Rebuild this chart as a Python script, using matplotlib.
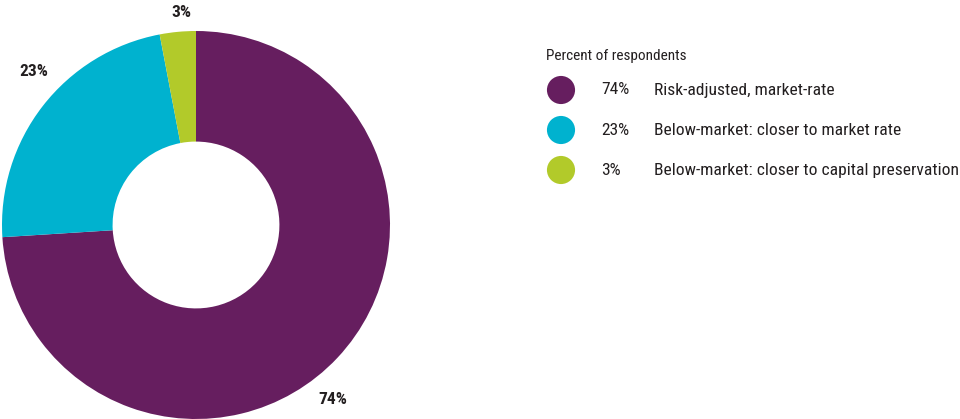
import matplotlib
matplotlib.use("Agg")
import matplotlib.pyplot as plt
import numpy as np

# data
categories = ["Risk-adjusted, market-rate",
              "Below-market: closer to market rate",
              "Below-market: closer to capital preservation"]
values = [74, 23, 3]
value_labels = ["74%", "23%", "3%"]
colors = ["#661e5f", "#00b2cf", "#b2ca2a"]
legend_title = "Percent of respondents"

FONT = ["Liberation Sans Narrow", "Roboto Condensed", "DejaVu Sans"]
TXT = "#231f20"
plt.rcParams["font.family"] = FONT

W, H = 960, 419
fig = plt.figure(figsize=(W / 100, H / 100), dpi=100)

# donut: centre (196, 225) px, radius 194 px
ax = fig.add_axes([2 / W, 0, 388 / W, 388 / H])
ax.pie(values, colors=colors, startangle=90, counterclock=False,
       radius=1.0, wedgeprops=dict(width=0.57, linewidth=0))
ax.set_xlim(-1, 1)
ax.set_ylim(-1, 1)
ax.set_aspect("equal")
ax.axis("off")

# outside value labels (placed where the original puts them)
label_pos = {"74%": (0.706, -0.902), "23%": (-0.835, 0.789), "3%": (-0.077, 1.095)}
for lab in value_labels:
    x, y = label_pos[lab]
    ax.text(x, y, lab, ha="center", va="center", fontsize=12.5,
            fontweight="bold", color=TXT, clip_on=False)

# legend drawn in pixel space
lax = fig.add_axes([0, 0, 1, 1])
lax.set_xlim(0, W)
lax.set_ylim(H, 0)
lax.axis("off")
lax.text(546, 56, legend_title, ha="left", va="center", fontsize=11, color=TXT)
for i, (cat, lab, c) in enumerate(zip(categories, value_labels, colors)):
    yy = 90 + 40 * i
    lax.scatter([561], [yy], s=410, color=c, edgecolors="none")
    lax.text(601, yy, lab, ha="left", va="center", fontsize=12.6, color=TXT)
    lax.text(654, yy, cat, ha="left", va="center", fontsize=12.6, color=TXT)

fig.savefig("out.png", dpi=100)
